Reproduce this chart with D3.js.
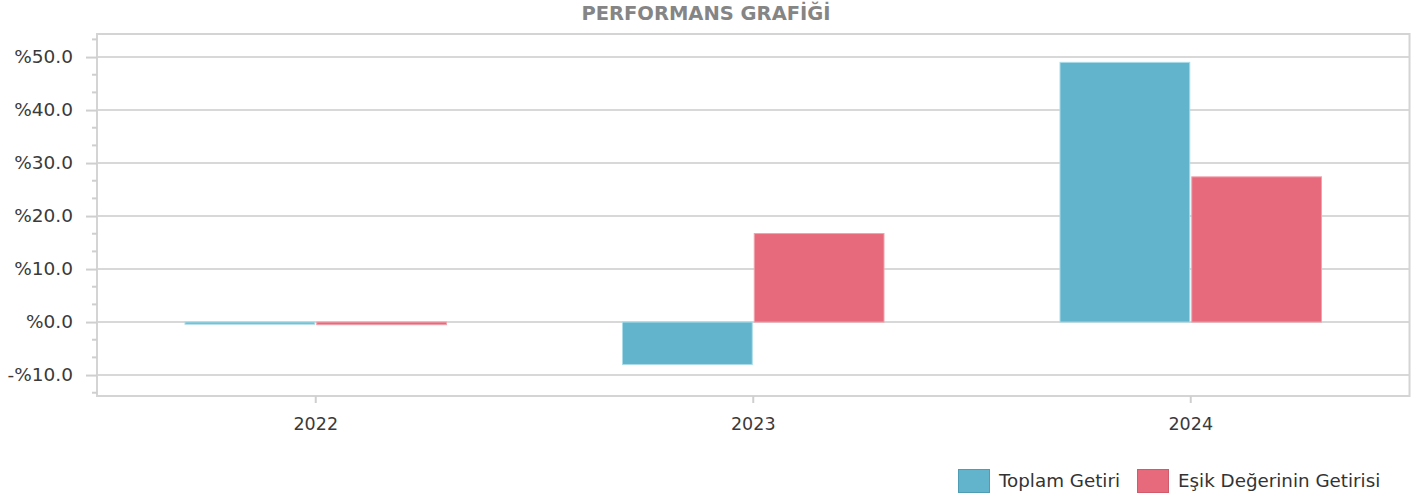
<!DOCTYPE html>
<html>
<head>
<meta charset="utf-8">
<script src="https://cdn.jsdelivr.net/npm/d3@7"></script>
<style>
  body { margin: 0; background: #fff; }
  svg text { font-family: "DejaVu Sans", Verdana, sans-serif; }
</style>
</head>
<body>
<div id="chart"></div>
<script>
// chart data
const years = ["2022", "2023", "2024"];
const seriesNames = ["Toplam Getiri", "Eşik Değerinin Getirisi"];
const toplamGetiri = [-0.4, -8.0, 49.0];
const esikGetiri = [-0.5, 16.7, 27.4];
const yTicks = [-10, 0, 10, 20, 30, 40, 50];

const colors = ["#62b3cc", "#e66a7b"];
const strokes = ["#a9dbe8", "#f0a3ad"];

const width = 1418, height = 500;
const margin = {top: 34, right: 8.5, bottom: 104, left: 97};

const svg = d3.select("#chart").append("svg")
    .attr("width", width)
    .attr("height", height);

// title
svg.append("text")
    .text("PERFORMANS GRAFİĞİ")
    .attr("x", 706)
    .attr("y", 20)
    .attr("text-anchor", "middle")
    .style("font-size", "19.5px")
    .style("font-weight", "bold")
    .style("fill", "#858585");

const x = d3.scaleBand()
    .domain(years)
    .range([margin.left, width - margin.right])
    .paddingInner(0.4)
    .paddingOuter(0.2);

const x1 = d3.scaleBand()
    .domain(seriesNames)
    .range([0, x.bandwidth()]);

const y = d3.scaleLinear()
    .domain([-13.95, 54.35])
    .range([height - margin.bottom, margin.top]);

// grid lines
svg.append("g")
    .selectAll("line")
    .data(yTicks)
    .join("line")
    .attr("x1", margin.left)
    .attr("x2", width - margin.right)
    .attr("y1", d => y(d))
    .attr("y2", d => y(d))
    .attr("stroke", "#d8d8d8")
    .attr("stroke-width", 2);

// frame
svg.append("rect")
    .attr("x", margin.left)
    .attr("y", margin.top)
    .attr("width", width - margin.left - margin.right)
    .attr("height", height - margin.top - margin.bottom)
    .attr("fill", "none")
    .attr("stroke", "#d4d4d4")
    .attr("stroke-width", 2);

// minor ticks on y (three steps between labels)
const minor = d3.range(-40, 164, 1).map(d => d * 10 / 3).filter(d => d >= -13.9 && d <= 54.3 && Math.abs(d / 10 - Math.round(d / 10)) > 0.01);
svg.append("g")
    .selectAll("line")
    .data(minor)
    .join("line")
    .attr("x1", margin.left - 5)
    .attr("x2", margin.left)
    .attr("y1", d => y(d))
    .attr("y2", d => y(d))
    .attr("stroke", "#cfcfcf")
    .attr("stroke-width", 2);

// y axis
const yAxis = svg.append("g")
    .attr("transform", `translate(${margin.left},0)`)
    .call(d3.axisLeft(y)
        .tickValues(yTicks)
        .tickSize(11)
        .tickPadding(13)
        .tickFormat(d => (d < 0 ? "-%" : "%") + Math.abs(d).toFixed(1)));
yAxis.select(".domain").remove();
yAxis.selectAll(".tick line").attr("stroke", "#cfcfcf").attr("stroke-width", 2);
yAxis.selectAll(".tick text")
    .style("font-size", "18.5px")
    .style("fill", "#3a3a3a");

// x axis
const xAxis = svg.append("g")
    .attr("transform", `translate(0,${height - margin.bottom})`)
    .call(d3.axisBottom(x).tickSize(7).tickPadding(15));
xAxis.select(".domain").remove();
xAxis.selectAll(".tick line").attr("stroke", "#cfcfcf").attr("stroke-width", 2);
xAxis.selectAll(".tick text")
    .style("font-size", "17.5px")
    .style("fill", "#3a3a3a");

// bars
const rows = years.map((yr, i) => ({year: yr, values: [toplamGetiri[i], esikGetiri[i]]}));

const groups = svg.append("g")
    .selectAll("g")
    .data(rows)
    .join("g")
    .attr("transform", d => `translate(${x(d.year)},0)`);

groups.selectAll("rect")
    .data(d => d.values.map((v, j) => ({name: seriesNames[j], value: v, j: j})))
    .join("rect")
    .attr("x", d => x1(d.name) + 0.5 + (d.j === 1 ? 0.5 : 0))
    .attr("width", x1.bandwidth() - 1.5)
    .attr("y", d => y(Math.max(0, d.value)))
    .attr("height", d => Math.abs(y(d.value) - y(0)))
    .attr("fill", d => colors[d.j])
    .attr("stroke", d => strokes[d.j])
    .attr("stroke-width", 1);

// legend
const legend = svg.append("g")
    .selectAll("g")
    .data(seriesNames)
    .join("g")
    .attr("transform", (d, i) => `translate(${i === 0 ? 958 : 1137},469)`);

legend.append("rect")
    .attr("x", 0.5)
    .attr("y", 0.5)
    .attr("width", 31)
    .attr("height", 23)
    .attr("fill", (d, i) => colors[i])
    .attr("stroke", (d, i) => i === 0 ? "#4f9db5" : "#d15a6b");

legend.append("text")
    .text(d => d)
    .attr("x", 41)
    .attr("y", 18)
    .style("font-size", "18.3px")
    .style("fill", "#333");
</script>
</body>
</html>
